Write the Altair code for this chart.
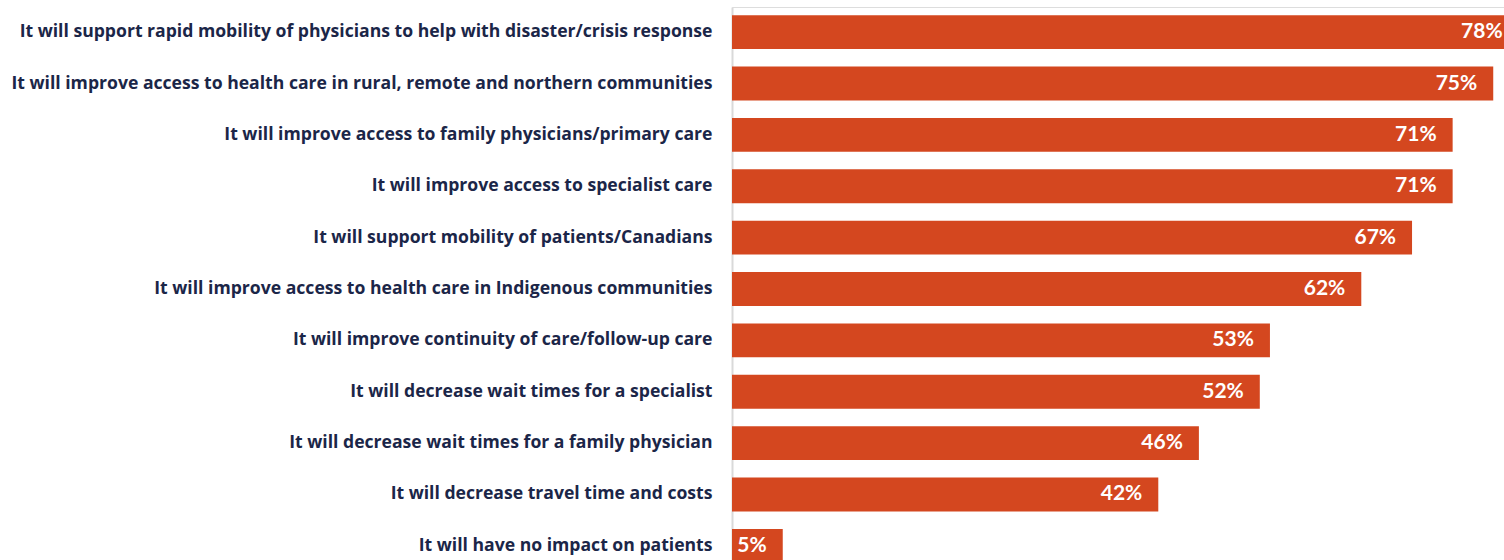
import altair as alt
import pandas as pd

categories = [
    "It will support rapid mobility of physicians to help with disaster/crisis response",
    "It will improve access to health care in rural, remote and northern communities",
    "It will improve access to family physicians/primary care",
    "It will improve access to specialist care",
    "It will support mobility of patients/Canadians",
    "It will improve access to health care in Indigenous communities",
    "It will improve continuity of care/follow-up care",
    "It will decrease wait times for a specialist",
    "It will decrease wait times for a family physician",
    "It will decrease travel time and costs",
    "It will have no impact on patients",
]
values = [78, 75, 71, 71, 67, 62, 53, 52, 46, 42, 5]

df = pd.DataFrame({"cat": categories, "value": values})
df["label"] = df["value"].astype(str) + "%"

BAR = "#D4471F"
NAVY = "#1B2648"
XMAX = 76.06

y_enc = alt.Y(
    "cat:N",
    sort=categories,
    scale=alt.Scale(paddingInner=0.34, paddingOuter=0.16),
    axis=alt.Axis(
        title=None,
        ticks=False,
        labelPadding=20,
        labelFont="Open Sans",
        labelFontWeight="bold",
        labelFontSize=17.6,
        labelColor=NAVY,
        labelLimit=800,
        domainColor="#D9D9D9",
        domainWidth=2,
    ),
)
x_scale = alt.Scale(domain=[0, XMAX], nice=False)

bars = alt.Chart(df).mark_bar(color=BAR, clip=True).encode(
    x=alt.X("value:Q", scale=x_scale, axis=None),
    y=y_enc,
)
text = alt.Chart(df).transform_calculate(
    pos="min(datum.value, 77.5)"
).mark_text(
    align="right", baseline="middle", dx=-16, color="white",
    font="Lato", fontWeight="bold", fontSize=21,
).encode(
    x=alt.X("pos:Q", scale=x_scale, axis=None),
    y=alt.Y("cat:N", sort=categories),
    text="label:N",
)

chart = (bars + text).properties(
    width=772, height=564,
    autosize=alt.AutoSizeParams(type="none"),
    padding={"left": 732, "top": 7, "right": 0, "bottom": 0},
).configure_view(stroke=None).configure(background="white")

chart.save("out.html", embed_options={"renderer": "svg", "actions": False})
